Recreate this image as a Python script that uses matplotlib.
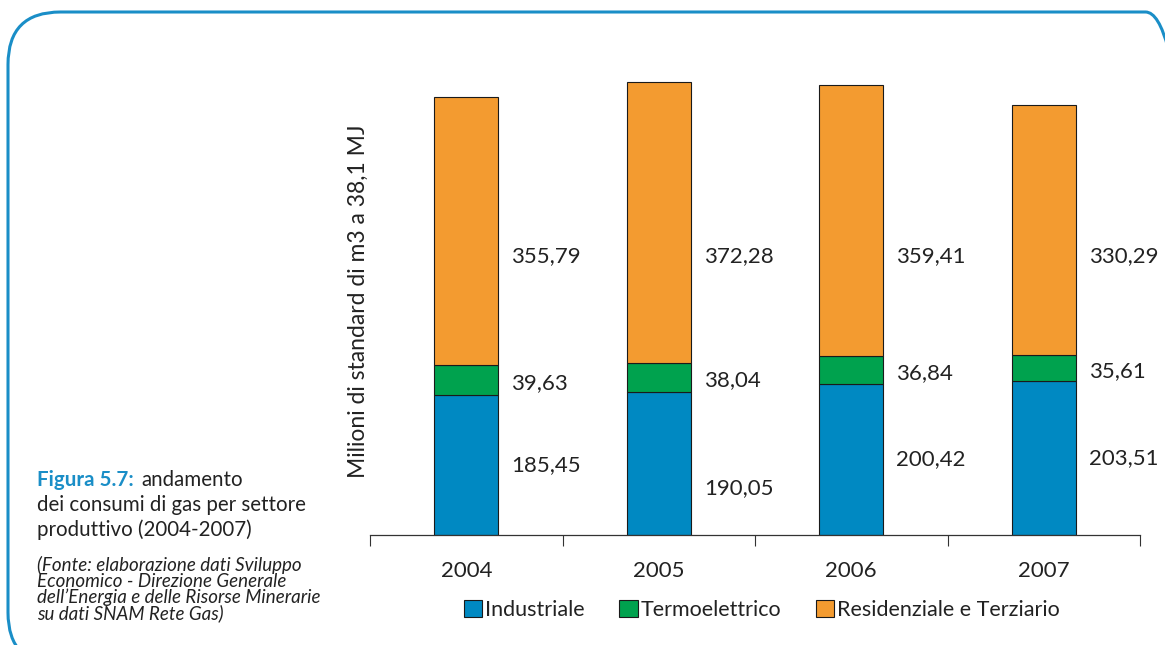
"""Andamento dei consumi di gas per settore produttivo (2004-2007)."""

import matplotlib
matplotlib.use("Agg")
import matplotlib.pyplot as plt
from matplotlib.patches import FancyBboxPatch, Patch

plt.rcParams["font.family"] = ["Lato", "DejaVu Sans"]

YEARS = ["2004", "2005", "2006", "2007"]
INDUSTRIALE = [185.45, 190.05, 200.42, 203.51]
TERMOELETTRICO = [39.63, 38.04, 36.84, 35.61]
RESIDENZIALE = [355.79, 372.28, 359.41, 330.29]
SERIES = ["Industriale", "Termoelettrico", "Residenziale e Terziario"]

BLUE = "#0089c2"
GREEN = "#00a24e"
ORANGE = "#f39b30"
FRAME = "#1a8ec7"
TEXT = "#222222"


def fmt(v):
    return f"{v:.2f}".replace(".", ",")


fig = plt.figure(figsize=(11.65, 6.45), dpi=100)

# rounded frame, partly running off the right and bottom edges
frame = FancyBboxPatch((8 / 1165, -20 / 645), 1190 / 1165, 653 / 645,
                       boxstyle="round,pad=0,rounding_size=0.045",
                       transform=fig.transFigure, facecolor="none",
                       edgecolor=FRAME, linewidth=2.2, clip_on=False,
                       mutation_aspect=1165 / 645)
fig.patches.append(frame)

ax = fig.add_axes([370 / 1165, 110 / 645, 770 / 1165, 468 / 645])
x = range(len(YEARS))
w = 0.33
bottom2 = [a + b for a, b in zip(INDUSTRIALE, TERMOELETTRICO)]
ax.bar(x, INDUSTRIALE, w, color=BLUE, edgecolor="#1a1a1a", linewidth=0.8)
ax.bar(x, TERMOELETTRICO, w, bottom=INDUSTRIALE, color=GREEN,
       edgecolor="#1a1a1a", linewidth=0.8)
ax.bar(x, RESIDENZIALE, w, bottom=bottom2, color=ORANGE,
       edgecolor="#1a1a1a", linewidth=0.8)

# value labels to the right of each bar
blue_nudge = [0, -33, 0, 0]
for i in x:
    xl = i + w / 2 + 0.07
    ax.text(xl, INDUSTRIALE[i] / 2 + blue_nudge[i], fmt(INDUSTRIALE[i]),
            va="center", ha="left", fontsize=16, color=TEXT)
    ax.text(xl, INDUSTRIALE[i] + TERMOELETTRICO[i] / 2 - 4,
            fmt(TERMOELETTRICO[i]), va="center", ha="left",
            fontsize=16, color=TEXT)
    ax.text(xl, 370, fmt(RESIDENZIALE[i]), va="center", ha="left",
            fontsize=16, color=TEXT)

ax.set_xlim(-0.5, len(YEARS) - 0.5)
ax.set_ylim(0, 620)
ax.set_xticks([i - 0.5 for i in range(len(YEARS) + 1)])
ax.set_xticklabels([])
ax.set_xticks(list(x), minor=True)
ax.set_xticklabels(YEARS, minor=True, fontsize=16, color=TEXT)
ax.tick_params(axis="x", which="major", length=8, width=0.8,
               color="#333333", direction="out")
ax.tick_params(axis="x", which="minor", length=0, pad=19)
ax.set_yticks([])
for s in ["left", "top", "right"]:
    ax.spines[s].set_visible(False)
ax.spines["bottom"].set_color("#333333")
ax.spines["bottom"].set_linewidth(0.9)
ax.set_ylabel("Milioni di standard di m3 a 38,1 MJ", fontsize=16.5,
              color=TEXT, labelpad=1)

handles = [Patch(facecolor=c, edgecolor="#1a1a1a", linewidth=0.8)
           for c in (BLUE, GREEN, ORANGE)]
fig.legend(handles, SERIES, loc="center", bbox_to_anchor=(762 / 1165, 1 - 610 / 645),
           ncol=3, frameon=False, fontsize=15.5, handlelength=0.85,
           handleheight=0.85, handletextpad=0.15, columnspacing=1.6,
           labelcolor=TEXT)

# caption on the left
fig.text(37 / 1165, 1 - 480 / 645, "Figura 5.7:", fontsize=14.8,
         fontweight="bold", color=FRAME, va="center", ha="left")
fig.text(141 / 1165, 1 - 480 / 645, "andamento", fontsize=14.8,
         color=TEXT, va="center", ha="left")
fig.text(37 / 1165, 1 - 505 / 645, "dei consumi di gas per settore",
         fontsize=14.8, color=TEXT, va="center", ha="left")
fig.text(37 / 1165, 1 - 530 / 645, "produttivo (2004-2007)",
         fontsize=14.8, color=TEXT, va="center", ha="left")
fig.text(37 / 1165, 1 - 556 / 645,
         "(Fonte: elaborazione dati Sviluppo\n"
         "Economico - Direzione Generale\n"
         "dell\u2019Energia e delle Risorse Minerarie\n"
         "su dati SNAM Rete Gas)",
         fontsize=13.5, style="italic", color=TEXT, va="top", ha="left",
         linespacing=0.9)

fig.savefig("out.png", dpi=100)
